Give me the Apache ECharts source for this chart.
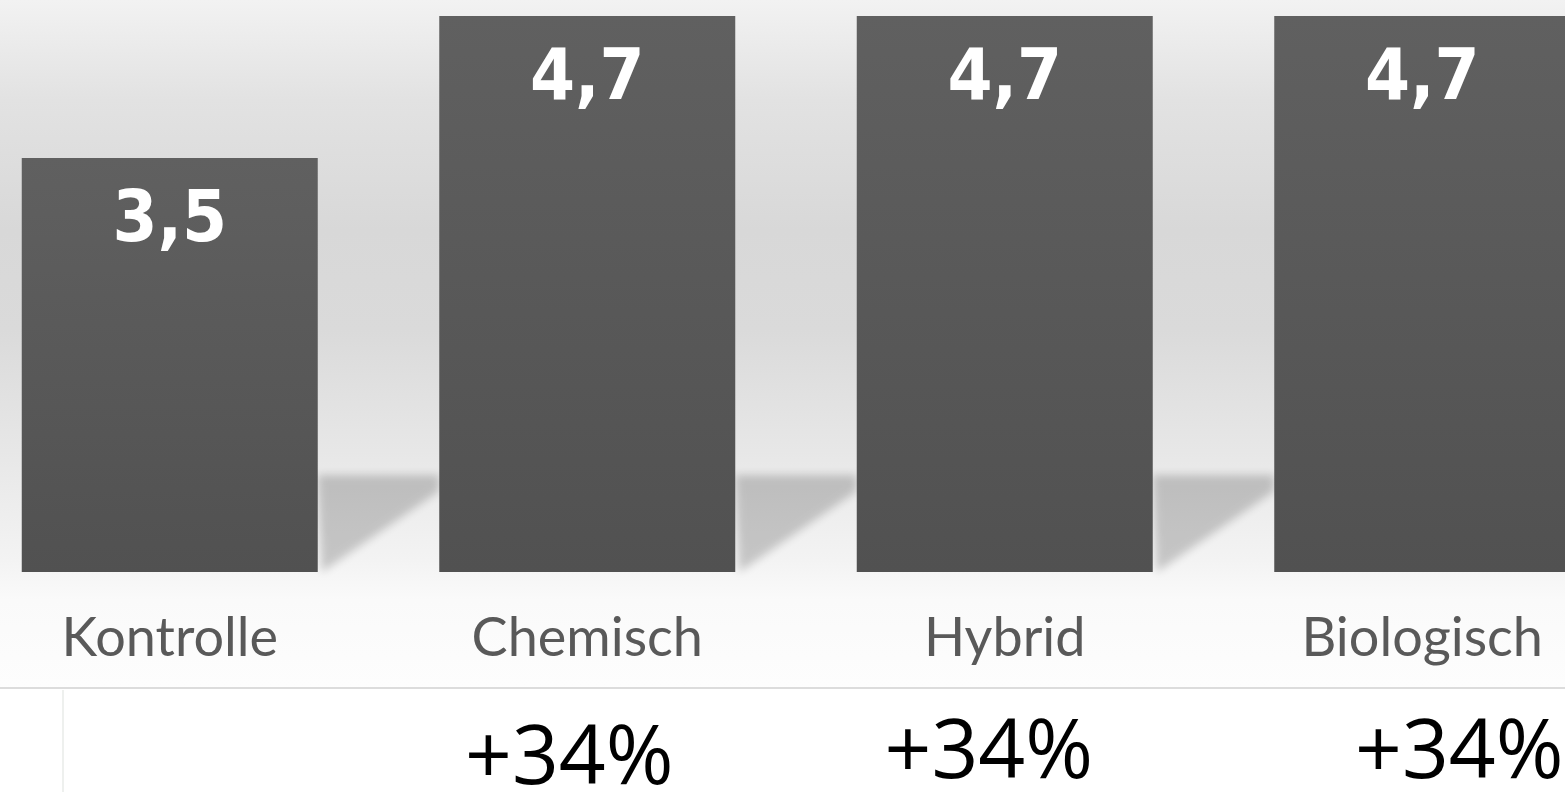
<!DOCTYPE html>
<html>
<head>
<meta charset="utf-8">
<script src="https://cdn.jsdelivr.net/npm/echarts@6/dist/echarts.min.js"></script>
<style>
  html, body { margin: 0; padding: 0; }
  #main {
    width: 1565px; height: 792px;
    background: linear-gradient(to bottom, #f2f2f2 0px, #e2e2e2 100px, #d8d8d8 230px, #dadada 330px, #e8e8e8 460px, #f3f3f3 560px, #fafafa 600px, #fdfdfd 686px, #ffffff 690px, #ffffff 792px);
  }
</style>
</head>
<body>
<div id="main"></div>
<script>
// Werte aus dem Bild
var categories = ['Kontrolle', 'Chemisch', 'Hybrid', 'Biologisch'];
var values = [3.5, 4.7, 4.7, 4.7];
var increase = ['', '+34%', '+34%', '+34%'];

// kleine Verschiebung der Prozent-Labels (nur Optik)
var pctPad = [[0, 0, 0, 0], [6, 36, 0, 0], [0, 32, 0, 0], [0, 0, 0, 74]];

var dom = document.getElementById('main');
var myChart = echarts.init(dom, null, { renderer: 'canvas' });

var FAR = 4000; // Schatten-Trick: Form weit weg, nur der weiche Schatten bleibt sichtbar

var option = {
  backgroundColor: 'transparent',
  animation: false,
  grid: {
    left: -39,
    right: -66,
    top: 16,
    bottom: 220,
    containLabel: false,
    outerBoundsMode: 'none'
  },
  xAxis: [{
    type: 'category',
    data: categories,
    axisLine: { show: false },
    axisTick: { show: false },
    axisLabel: {
      margin: 40,
      fontFamily: 'Lato',
      fontWeight: 400,
      fontSize: 54,
      lineHeight: 54,
      color: '#595959'
    }
  }, {
    type: 'category',
    position: 'bottom',
    offset: 116,
    data: increase.map(function (t, i) {
      return { value: t, textStyle: { padding: pctPad[i] } };
    }),
    axisLine: { show: true, lineStyle: { color: '#dcdcdc', width: 2 } },
    axisTick: { show: false },
    axisLabel: {
      margin: 26,
      fontFamily: 'Open Sans',
      fontSize: 82,
      lineHeight: 82,
      color: '#000000'
    }
  }],
  yAxis: {
    type: 'value',
    min: 0,
    max: 4.7,
    show: false,
    splitLine: { show: false }
  },
  graphic: [{
    type: 'line',
    shape: { x1: 63, y1: 690, x2: 63, y2: 792 },
    style: { stroke: '#eef0ee', lineWidth: 2 },
    silent: true
  }],
  series: [{
    // Bodenschatten rechts neben jedem Balken
    type: 'custom',
    z: 1,
    silent: true,
    clip: false,
    data: values,
    renderItem: function (params, api) {
      var p = api.coord([params.dataIndex, 0]);
      var w = api.size([1, 0])[0];
      var half = 148;
      var x0 = p[0] + half;
      var x1 = p[0] + w - half;
      var top = p[1] - 97;
      var pts = [[x0, top], [x1, top], [x1, top + 16], [x0 + 4, p[1]]];
      return {
        type: 'polygon',
        shape: { points: pts.map(function (q) { return [q[0] + FAR, q[1]]; }) },
        style: {
          fill: '#000',
          shadowBlur: 8,
          shadowColor: 'rgba(0,0,0,0.19)',
          shadowOffsetX: -FAR,
          shadowOffsetY: 0
        }
      };
    }
  }, {
    type: 'bar',
    z: 2,
    data: values,
    barWidth: 296,
    itemStyle: {
      color: new echarts.graphic.LinearGradient(0, 0, 0, 1, [
        { offset: 0, color: '#606060' },
        { offset: 1, color: '#515151' }
      ])
    },
    label: {
      show: true,
      position: 'insideTop',
      distance: 28,
      fontFamily: 'DejaVu Sans Condensed',
      fontWeight: 'bold',
      fontSize: 72,
      lineHeight: 72,
      color: '#ffffff',
      formatter: function (p) { return String(p.value).replace('.', ','); }
    }
  }]
};

myChart.setOption(option);
</script>
</body>
</html>
